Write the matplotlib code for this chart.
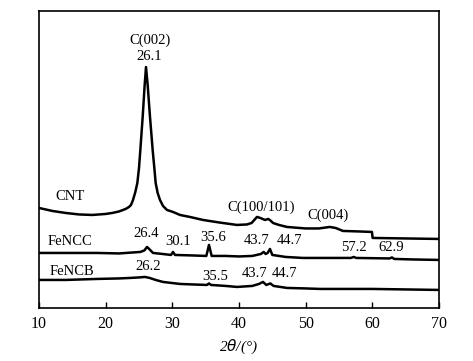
import numpy as np
import matplotlib
matplotlib.use("Agg")
import matplotlib.pyplot as plt

# 2theta (deg) and relative intensity (a.u.)
cnt_x = [10, 12, 14, 16, 18, 20, 21, 22, 23, 23.5, 23.8, 24.1, 24.45, 24.75, 25.0, 25.2,
         25.55, 25.85, 26.05, 26.3, 26.65, 27.05, 27.3, 27.5, 27.8, 28.15, 28.6, 29.2,
         30.1, 31.15, 32.65, 34.6, 37, 39.7, 41.2, 41.9, 42.3, 42.7, 43.2, 43.9, 44.4,
         44.8, 45.1, 46, 47.2, 50, 52, 53.6, 54.5, 55.6, 58, 59.95, 60.05, 65, 70]
cnt_y = [100, 97, 95, 93.5, 93, 94, 95, 96.5, 99, 101, 103, 108, 116, 125, 140, 158,
         191, 223, 241, 223, 191, 158, 140, 125, 115, 108, 102, 98,
         96, 93, 91, 88, 85.5, 83, 83.5, 85, 88, 91, 90, 88, 89,
         87, 85, 83, 81, 79.5, 79.5, 81, 80, 77, 76.5, 76, 70, 69.5, 69]

fencc_x = [10, 14, 18.7, 22, 25.2, 25.8, 26.2, 26.6, 27.1, 28.5, 29.8, 30.1, 30.4, 33,
           35.1, 35.5, 35.9, 38, 40, 42, 43.3, 43.7, 44.0, 44.3, 44.65, 45.0, 47, 49.6,
           53, 56.8, 57.2, 57.6, 62.6, 62.95, 63.3, 66, 70]
fencc_y = [55, 55, 55, 54.5, 56, 57.5, 61, 58.5, 55, 54, 53, 56, 53, 52.5,
           52, 63, 52, 52, 51.5, 52, 54, 56, 54, 55, 59, 53, 51, 50,
           50, 50, 51, 50, 49.5, 50.5, 49, 48.5, 48]

fencb_x = [10, 14, 18.7, 22, 23.65, 25, 25.9, 26.6, 27.5, 28.6, 31.15, 33, 35.2, 35.5,
           35.8, 38, 39.7, 42, 43.0, 43.6, 44.1, 44.7, 45.2, 47.2, 50, 52.15, 60, 65, 70]
fencb_y = [28, 28, 29, 29.5, 30, 30.5, 31, 30, 28, 26, 24, 23.5, 23, 24.5,
           23, 22, 21, 22, 24, 26, 23, 24.5, 22, 20, 19.5, 19, 19, 18.5, 18]

labels = [
    ("C(002)", 26.6, 268), ("26.1", 26.6, 251), ("CNT", 14.7, 111),
    ("C(100/101)", 43.3, 101), ("C(004)", 53.4, 93),
    ("FeNCC", 14.7, 66), ("26.4", 26.0, 74), ("30.1", 30.9, 66), ("35.6", 36.1, 70),
    ("43.7", 42.7, 67), ("44.7", 47.6, 67), ("57.2", 57.3, 60), ("62.9", 62.9, 60),
    ("FeNCB", 14.9, 36), ("26.2", 26.3, 41), ("35.5", 36.4, 31),
    ("43.7", 42.4, 34), ("44.7", 46.8, 34),
]

plt.rcParams['font.family'] = ['Liberation Serif', 'DejaVu Serif']

fig = plt.figure(figsize=(4.73, 3.61), dpi=100)
ax = fig.add_axes([0.0825, 0.147, 0.8455, 0.8225])

for xs, ys in [(cnt_x, cnt_y), (fencc_x, fencc_y), (fencb_x, fencb_y)]:
    ax.plot(xs, ys, color='black', lw=1.8)

for txt, x, y in labels:
    ax.text(x, y, txt, ha='center', va='center', fontsize=10.5)

ax.set_xlim(10, 70)
ax.set_ylim(0, 297)
ax.set_xticks(np.arange(10, 71, 10))
ax.set_yticks([])
ax.tick_params(axis='x', direction='in', length=4, width=1, labelsize=11.5, pad=6)
for s in ax.spines.values():
    s.set_linewidth(1.2)
ax.set_xlabel(r'2$\theta$/(°)', fontsize=11, labelpad=4)
ax.xaxis.label.set_fontstyle('italic')

fig.savefig('out.png', dpi=100)
